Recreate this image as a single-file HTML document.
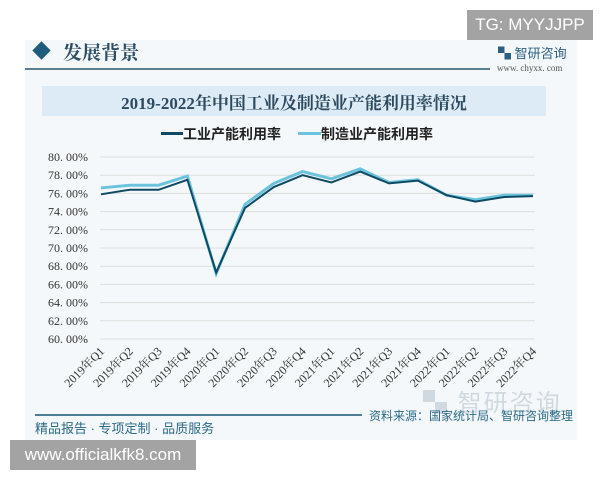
<!DOCTYPE html>
<html><head><meta charset="utf-8"><style>
body{margin:0;width:600px;height:480px;background:#fff;overflow:hidden;position:relative;font-family:"Liberation Sans","Noto Sans CJK SC",sans-serif}
.a{position:absolute;white-space:nowrap}
</style></head><body>
<div class="a" style="left:25px;top:40px;width:552px;height:400px;background:#f5f8fa"></div>
<div class="a" style="left:467px;top:10px;width:126px;height:30px;background:#a3a3a3;color:#fff;font-size:17px;line-height:30px;text-align:center">TG: MYYJJPP</div>
<div class="a" style="left:35px;top:44px;width:13px;height:13px;background:#1f5d7e;transform:rotate(45deg)"></div>
<div class="a" style="left:63px;top:38px;font-size:19px;font-weight:bold;color:#2d4f66;font-family:'Noto Serif CJK SC',serif">发展背景</div>
<div class="a" style="left:25px;top:68px;width:465px;height:2px;background:#5a7f8f"></div>
<div class="a" style="left:498px;top:43px;font-size:13px;color:#2d5f80">▚ 智研咨询</div>
<div class="a" style="left:497px;top:63px;font-size:9px;color:#555;font-family:'Liberation Serif',serif">www. chyxx. com</div>
<div class="a" style="left:42px;top:86px;width:504px;height:30px;background:#dcebf5"></div>
<div class="a" style="left:42px;top:89px;width:504px;text-align:center;font-size:17px;font-weight:bold;color:#2d4a5e;font-family:'Liberation Serif','Noto Serif CJK SC',serif">2019-2022年中国工业及制造业产能利用率情况</div>
<div class="a" style="left:161px;top:132px;width:22px;height:3px;background:#0f4a63"></div>
<div class="a" style="left:183px;top:124px;font-size:14px;font-weight:bold;color:#222">工业产能利用率</div>
<div class="a" style="left:298px;top:132px;width:23px;height:3px;background:#6cc3de"></div>
<div class="a" style="left:321px;top:124px;font-size:14px;font-weight:bold;color:#222">制造业产能利用率</div>
<svg class="a" style="left:0;top:0" width="600" height="480">
<g stroke="#dedede" stroke-width="1" id="g"></g>
<g font-family="Liberation Serif,serif" font-size="12" fill="#333" text-anchor="end" id="yl"></g>
<g font-family="Liberation Serif,'Noto Serif CJK SC',serif" font-size="12" fill="#333" text-anchor="end" id="xl"></g>
<polyline id="m" fill="none" stroke="#6cc3de" stroke-width="3"/>
<polyline id="i" fill="none" stroke="#0f4a63" stroke-width="2"/>
</svg>
<div class="a" style="left:423px;top:383px;font-size:24px;color:#d0d9df;letter-spacing:2px">▚ 智研咨询</div>
<div class="a" style="left:35px;top:414px;width:327px;height:2px;background:#4e7f96"></div>
<div class="a" style="left:35px;top:418px;font-size:13px;color:#2b6a88">精品报告 · 专项定制 · 品质服务</div>
<div class="a" style="right:27px;top:407px;font-size:12px;color:#2b6a88">资料来源：国家统计局、智研咨询整理</div>
<div class="a" style="left:10px;top:440px;width:186px;height:30px;background:#a3a3a3;color:#fff;font-size:17px;line-height:30px;text-align:center">www.officialkfk8.com</div>
<script>
var ns="http://www.w3.org/2000/svg";
function y(v){return 157+(80-v)*9.1}
var g=document.getElementById('g'),yl=document.getElementById('yl'),xl=document.getElementById('xl');
for(var v=80;v>=60;v-=2){var l=document.createElementNS(ns,'line');l.setAttribute('x1',100);l.setAttribute('x2',535);l.setAttribute('y1',y(v));l.setAttribute('y2',y(v));g.appendChild(l);
var t=document.createElementNS(ns,'text');t.setAttribute('x',88);t.setAttribute('y',y(v)+4);t.textContent=v.toFixed(2).replace('.','. ')+'%';yl.appendChild(t);}
var I=[75.9,76.4,76.4,77.5,67.3,74.4,76.7,78.0,77.2,78.4,77.1,77.4,75.8,75.1,75.6,75.7];
var M=[76.6,76.9,76.9,77.9,67.2,74.8,77.1,78.4,77.6,78.7,77.2,77.5,75.8,75.3,75.8,75.8];
var pi=[],pm=[];
for(var k=0;k<16;k++){var x=101+k*28.8;pi.push(x+','+y(I[k]));pm.push(x+','+y(M[k]));
var t=document.createElementNS(ns,'text');t.setAttribute('transform','translate('+(x+4)+',352) rotate(-45)');t.textContent=(2019+Math.floor(k/4))+'年Q'+(k%4+1);xl.appendChild(t);}
document.getElementById('i').setAttribute('points',pi.join(' '));
document.getElementById('m').setAttribute('points',pm.join(' '));
</script>
</body></html>
